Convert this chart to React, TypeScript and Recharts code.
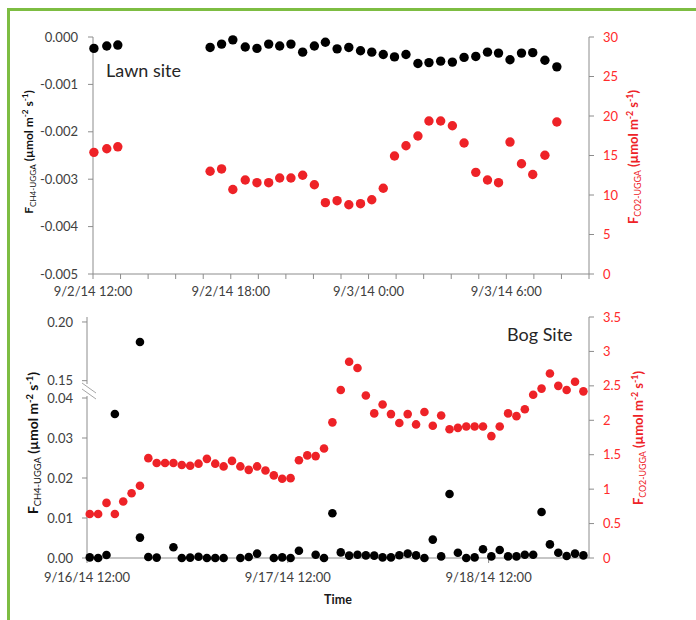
import { Scatter, ScatterChart, XAxis, YAxis } from "recharts";

// Lawn site, hours after 9/2/14 12:00
const LAWN_HOURS = [
  0.04, 0.6, 1.08, 5.1, 5.6, 6.09, 6.63, 7.14, 7.65, 8.13, 8.62, 9.13, 9.64,
  10.12, 10.63, 11.14, 11.65, 12.14, 12.64, 13.13, 13.63, 14.15, 14.63, 15.14,
  15.65, 16.16, 16.67, 17.18, 17.66, 18.16, 18.66, 19.15, 19.68, 20.2,
];
const LAWN_CH4 = [
  -0.00024, -0.00019, -0.00017, -0.00022, -0.00015, -0.00006, -0.00021,
  -0.00024, -0.00015, -0.00019, -0.00015, -0.00032, -0.00019, -0.00011,
  -0.00025, -0.00022, -0.00029, -0.00032, -0.00037, -0.00042, -0.00037,
  -0.00056, -0.00054, -0.00051, -0.00053, -0.00043, -0.00041, -0.00032,
  -0.00034, -0.00048, -0.00034, -0.00033, -0.00049, -0.00063,
];
const LAWN_CO2 = [
  15.4, 15.86, 16.1, 13.0, 13.3, 10.7, 11.9, 11.56, 11.56, 12.15, 12.15, 12.5,
  11.3, 9.03, 9.28, 8.77, 8.9, 9.4, 10.85, 14.94, 16.24, 17.47, 19.37, 19.37,
  18.77, 16.58, 12.87, 11.9, 11.56, 16.7, 13.96, 12.6, 15.03, 19.24,
];
const LAWN_TICKS = [
  0, 1.2, 2.4, 3.6, 4.8, 6, 7.2, 8.4, 9.6, 10.8, 12, 13.2, 14.4, 15.6, 16.8, 18,
  19.2, 20.4, 21.6,
];
const LAWN_LABEL_HOURS = [0, 6, 12, 18];
const LAWN_LABELS = ["9/2/14 12:00", "9/2/14 18:00", "9/3/14 0:00", "9/3/14 6:00"];
const LAWN_CH4_TICKS = [0, -0.001, -0.002, -0.003, -0.004, -0.005];
const LAWN_CO2_TICKS = [0, 5, 10, 15, 20, 25, 30];

// Bog site, hours after 9/16/14 12:00
const BOG_HOURS = [
  0.33, 1.33, 2.33, 3.33, 4.33, 5.33, 6.33, 7.33, 8.33, 9.33, 10.33, 11.33,
  12.33, 13.33, 14.33, 15.33, 16.33, 17.33, 18.33, 19.33, 20.33, 21.33, 22.33,
  23.33, 24.33, 25.33, 26.33, 27.33, 28.33, 29.33, 30.33, 31.33, 32.33, 33.33,
  34.33, 35.33, 36.33, 37.33, 38.33, 39.33, 40.33, 41.33, 42.33, 43.33, 44.33,
  45.33, 46.33, 47.33, 48.33, 49.33, 50.33, 51.33, 52.33, 53.33, 54.33, 55.33,
  56.33, 57.33, 58.33, 59.33,
];
const BOG_CO2 = [
  0.64, 0.64, 0.8, 0.64, 0.82, 0.94, 1.05, 1.45, 1.38, 1.38, 1.38, 1.35, 1.34,
  1.37, 1.44, 1.37, 1.33, 1.41, 1.33, 1.28, 1.33, 1.27, 1.2, 1.15, 1.16, 1.42,
  1.49, 1.48, 1.59, 1.97, 2.44, 2.85, 2.76, 2.36, 2.1, 2.23, 2.09, 1.96, 2.09,
  1.94, 2.12, 1.92, 2.07, 1.87, 1.89, 1.91, 1.91, 1.91, 1.77, 1.91, 2.1, 2.06,
  2.16, 2.37, 2.46, 2.68, 2.5, 2.44, 2.56, 2.42,
];
const BOG_CH4 = [
  0.00015, 0, 0.00075, 0.036, null, null, 0.0051, 0.00025, 0.0001, null,
  0.0027, 0, 0.0001, 0.0003, 0, 0, 0, null, 0, 0.00025,
  0.0011, null, 0, 0.00015, 0, 0.0018, null, 0.0008, 0, 0.0112,
  0.0014, 0.0006, 0.0008, 0.00065, 0.0006, 0.00015, 0.00015, 0.0007, 0.0011, 0.00065,
  0, 0.0046, 0.0004, 0.016, 0.0013, 0, 0.00015, 0.0022, 0.0004, 0.002,
  0.0004, 0.0004, 0.0008, 0.0008, 0.0115, 0.0034, 0.0013, 0.0005, 0.0011, 0.00065,
];
// outlier above the axis break
const BOG_CH4_HIGH_HOURS = [6.33];
const BOG_CH4_HIGH = [0.183];
const BOG_TICKS = [0, 24, 48];
const BOG_LABELS = ["9/16/14 12:00", "9/17/14 12:00", "9/18/14 12:00"];
const BOG_CH4_TICKS = [0, 0.01, 0.02, 0.03, 0.04, 0.15, 0.2];
const BOG_CO2_TICKS = [0, 0.5, 1, 1.5, 2, 2.5, 3, 3.5];

// broken left axis: 0-0.04 linear, then 0.15-0.20 squeezed on top
const BREAK_LOW = 0.04;
const BREAK_HIGH = 0.15;
const BREAK_GAP = 0.00433;
const UPPER_SCALE = 0.2935;
const toBogAxis = (v: number) =>
  v <= BREAK_LOW ? v : BREAK_LOW + BREAK_GAP + (v - BREAK_HIGH) * UPPER_SCALE;
const fromBogAxis = (d: number) =>
  d <= BREAK_LOW + 1e-9 ? d : BREAK_HIGH + (d - BREAK_LOW - BREAK_GAP) / UPPER_SCALE;

const RED = "#ee2227";
const AXIS = "#8c8c8c";
const TICK = { fontSize: 13, fill: "#404040", fontFamily: "Lato" };
const RED_TICK = { ...TICK, fill: "#ff2b2b" };

const lawnCh4 = LAWN_HOURS.map((t, i) => ({ t, v: LAWN_CH4[i] }));
const lawnCo2 = LAWN_HOURS.map((t, i) => ({ t, v: LAWN_CO2[i] }));
const bogCo2 = BOG_HOURS.map((t, i) => ({ t, v: BOG_CO2[i] }));
const bogCh4 = [
  ...BOG_HOURS.map((t, i) => ({ t, raw: BOG_CH4[i] }))
    .filter((d) => d.raw !== null)
    .map((d) => ({ t: d.t, v: toBogAxis(d.raw as number) })),
  ...BOG_CH4_HIGH_HOURS.map((t, i) => ({ t, v: toBogAxis(BOG_CH4_HIGH[i]) })),
];

const dot = (color: string, r: number) => (props: any) =>
  <circle cx={props.cx} cy={props.cy} r={r} fill={color} />;

const labelAt = (hours: number[], labels: string[]) => (v: number) => {
  const i = hours.findIndex((h) => Math.abs(h - v) < 0.01);
  return i >= 0 ? labels[i] : "";
};

const AxisTitle = ({ x, y, name, color, size }: any) => {
  const small = size * 0.68;
  return (
    <text
      transform={`rotate(-90 ${x} ${y})`}
      x={x}
      y={y}
      textAnchor="middle"
      fontFamily="Lato"
      fontWeight={700}
      fontSize={size}
      fill={color}
    >
      F
      <tspan fontSize={small} fontWeight={400} dy={3}>{name}</tspan>
      <tspan dy={-3}> (µmol m</tspan>
      <tspan fontSize={small} dy={-5}>-2</tspan>
      <tspan dy={5}> s</tspan>
      <tspan fontSize={small} dy={-5}>-1</tspan>
      <tspan dy={5}>)</tspan>
    </text>
  );
};

const axisProps = {
  axisLine: { stroke: AXIS },
  tickLine: { stroke: AXIS },
  tickSize: 5,
};

export default function App() {
  return (
    <div style={{ position: "absolute", left: 0, top: 0, width: 696, height: 620, background: "#fff" }}>
      <div
        style={{
          position: "absolute",
          left: 7,
          top: 8,
          width: 700,
          height: 620,
          borderLeft: "3px solid #7dbd42",
          borderTop: "3px solid #7dbd42",
        }}
      />
      <div style={{ position: "absolute", left: 0, top: 0 }}>
        <ScatterChart width={696} height={310} margin={{ top: 37, right: 47, bottom: 6, left: 33 }}>
          <XAxis
            type="number"
            dataKey="t"
            domain={[0, 21.6]}
            ticks={LAWN_TICKS}
            interval={0}
            tickFormatter={labelAt(LAWN_LABEL_HOURS, LAWN_LABELS)}
            tick={TICK}
            tickMargin={8}
            height={30}
            {...axisProps}
          />
          <YAxis
            yAxisId="ch4"
            type="number"
            dataKey="v"
            domain={[-0.005, 0]}
            ticks={LAWN_CH4_TICKS}
            interval={0}
            tickFormatter={(v: number) => v.toFixed(3)}
            tick={TICK}
            tickMargin={10}
            width={60}
            {...axisProps}
          />
          <YAxis
            yAxisId="co2"
            orientation="right"
            type="number"
            dataKey="v"
            domain={[0, 30]}
            ticks={LAWN_CO2_TICKS}
            interval={0}
            tick={RED_TICK}
            tickMargin={9}
            width={60}
            {...axisProps}
          />
          <Scatter yAxisId="co2" data={lawnCo2} shape={dot(RED, 4.7)} isAnimationActive={false} />
          <Scatter yAxisId="ch4" data={lawnCh4} shape={dot("#000", 4.7)} isAnimationActive={false} />
        </ScatterChart>
      </div>
      <div style={{ position: "absolute", left: 0, top: 300 }}>
        <ScatterChart width={696} height={320} margin={{ top: 17, right: 47, bottom: 32, left: 27 }}>
          <XAxis
            type="number"
            dataKey="t"
            domain={[0, 60]}
            ticks={BOG_TICKS}
            interval={0}
            tickFormatter={labelAt(BOG_TICKS, BOG_LABELS)}
            tick={TICK}
            tickMargin={10}
            height={30}
            {...axisProps}
          />
          <YAxis
            yAxisId="ch4"
            type="number"
            dataKey="v"
            domain={[0, 0.06025]}
            ticks={BOG_CH4_TICKS.map(toBogAxis)}
            interval={0}
            tickFormatter={(d: number) => fromBogAxis(d).toFixed(2)}
            tick={TICK}
            tickMargin={9}
            width={60}
            {...axisProps}
          />
          <YAxis
            yAxisId="co2"
            orientation="right"
            type="number"
            dataKey="v"
            domain={[0, 3.5]}
            ticks={BOG_CO2_TICKS}
            interval={0}
            tickFormatter={(v: number) => String(v)}
            tick={RED_TICK}
            tickMargin={9}
            width={60}
            {...axisProps}
          />
          <Scatter yAxisId="co2" data={bogCo2} shape={dot(RED, 4.3)} isAnimationActive={false} />
          <Scatter yAxisId="ch4" data={bogCh4} shape={dot("#000", 4.3)} isAnimationActive={false} />
        </ScatterChart>
      </div>
      <svg
        width={696}
        height={620}
        style={{ position: "absolute", left: 0, top: 0, pointerEvents: "none" }}
      >
        <text x={106} y={77} fontFamily="Lato" fontSize={18} fill="#262626">Lawn site</text>
        <text x={507} y={341} fontFamily="Lato" fontSize={18} fill="#262626">Bog Site</text>
        <text x={338} y={604} textAnchor="middle" fontFamily="Lato" fontWeight={700} fontSize={12.5} fill="#1a1a1a">
          Time
        </text>
        <AxisTitle x={33} y={152} name="CH4-UGGA" color="#111" size={12} />
        <AxisTitle x={38} y={443} name="CH4-UGGA" color="#111" size={13.8} />
        <AxisTitle x={638} y={157} name="CO2-UGGA" color={RED} size={13} />
        <AxisTitle x={643} y={438} name="CO2-UGGA" color={RED} size={13} />
        <rect x={84} y={384} width={7} height={12} fill="#fff" />
        <line x1={82} y1={383} x2={96} y2={393} stroke="#a6a6a6" />
        <line x1={82} y1={389} x2={96} y2={399} stroke="#a6a6a6" />
      </svg>
    </div>
  );
}
